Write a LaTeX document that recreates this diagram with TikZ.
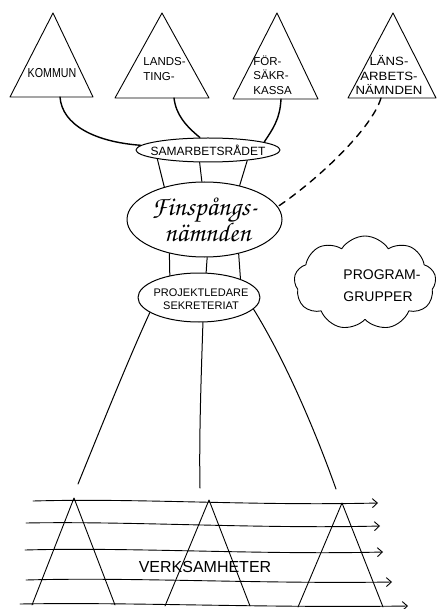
\documentclass[tikz,border=0pt]{standalone}
\usepackage{fontspec}
\setmainfont{Liberation Sans}
\newfontfamily\handscript{texgyrechorus-mediumitalic.otf}
\usetikzlibrary{shapes.geometric,shapes.symbols,arrows.meta}

\begin{document}
\begin{tikzpicture}[x=1pt,y=-1pt,line width=0.9pt,line join=round,line cap=round,
  lab/.style={align=center,inner sep=0pt,font=\fontsize{11}{14.5}\selectfont},
  oval/.style={draw,ellipse,inner sep=0pt,line width=1pt},
  tri/.style={line width=0.9pt},
  feeder/.style={line width=1.4pt},
  link/.style={line width=1pt},
  flow/.style={line width=0.9pt,-{Straight Barb[length=5pt,width=9pt,line width=0.9pt]}}]
\useasboundingbox (0,0) rectangle (439,609);

% ---- the four founding bodies
\draw[tri] (53,13) -- (93,97) -- (10,97) -- cycle;
\draw[tri] (162,13) -- (209,98) -- (115,98) -- cycle;
\draw[tri] (277,13) -- (318,99) -- (233,99) -- cycle;
\draw[tri] (393,13) -- (436,98) -- (348,98) -- cycle;

\node[lab,font=\fontsize{13}{14}\selectfont,xscale=0.82] (kommun) at (52,73) {KOMMUN};
\node[lab,align=left,anchor=west,font=\fontsize{11.5}{15}\selectfont] (landsting) at (143,69) {LANDS-\\TING-};
\node[lab,align=left,anchor=west,font=\fontsize{11.5}{14.5}\selectfont] (kassa) at (253,75) {FÖR-\\SÄKR-\\KASSA};
\node[lab,font=\fontsize{12}{14.5}\selectfont,xscale=1.1] (lans) at (389,75) {LÄNS-\\ARBETS-\\NÄMNDEN};

\coordinate (kommunfoot) at (60,97);
\coordinate (landstingfoot) at (174,98);
\coordinate (kassafoot) at (281,99);
\coordinate (lansfoot) at (381,98);

% ---- councils
\node[oval,minimum width=144pt,minimum height=24pt] (sam) at (208,150) {};
\node[lab,font=\fontsize{12}{12}\selectfont] (samtext) at (sam.center) {SAMARBETSRÅDET};

\node[oval,minimum width=155pt,minimum height=75pt] (fin) at (204.5,219.5) {};
\node[lab,font=\handscript\fontsize{27}{27}\selectfont] (fintext) at (fin.center) {Finspångs-\\[-1pt]\hspace*{6pt}nämnden};

\node[oval,minimum width=122pt,minimum height=49pt] (proj) at (199,297.5) {};
\node[lab,font=\fontsize{11}{12.5}\selectfont] (projtext) at (201,299) {PROJEKTLEDARE\\SEKRETERIAT};

% ---- program groups
\node[cloud,draw,cloud puffs=9,cloud puff arc=115,aspect=1.5,
      minimum width=142pt,minimum height=94pt,inner sep=0pt] (cloud) at (365,283) {};
\node[lab,align=left,anchor=west,font=\fontsize{14}{22}\selectfont] (cloudtext) at (343,286) {PROGRAM-\\GRUPPER};

% ---- links from the founders to the cooperation council
\draw[feeder] (kommunfoot) .. controls (62,125) and (95,142) .. (sam.176);
\draw[feeder] (landstingfoot) .. controls (176,115) and (186,126) .. (sam.123);
\draw[feeder] (kassafoot) .. controls (280,120) and (272,130) .. (sam.8);
\draw[feeder,dash pattern=on 7pt off 6pt] (lansfoot) .. controls (372,128) and (320,178) .. (fin.10);

% ---- council to board to secretariat
\draw[link] (sam.190) -- (fin.141);
\draw[link] (sam.236) -- (fin.94);
\draw[link] (sam.345) -- (fin.44);
\draw[link] (fin.224) -- (proj.143);
\draw[link] (fin.274) -- (proj.74);
\draw[link] (fin.315) -- (proj.24);

% ---- secretariat down to the activities
\coordinate (leftend) at (78,484);
\coordinate (midend) at (200,488);
\coordinate (rightend) at (336,489);
\draw[link] (proj.197) .. controls (128,360) and (100,430) .. (leftend);
\draw[link] (proj.279) .. controls (201,380) and (199,440) .. (midend);
\draw[link] (proj.348) .. controls (285,360) and (315,430) .. (rightend);

% ---- activity streams
\coordinate (r1s) at (33,501);  \coordinate (r1e) at (378,503);
\coordinate (r2s) at (26,523);  \coordinate (r2e) at (380,526);
\coordinate (r3s) at (25,550);  \coordinate (r3e) at (383,552);
\coordinate (r4s) at (26,580);  \coordinate (r4e) at (392,582);
\coordinate (r5s) at (20,604);  \coordinate (r5e) at (408,606);
\draw[flow] (r1s) .. controls (140,498) and (250,506) .. (r1e);
\draw[flow] (r2s) .. controls (130,521) and (260,529) .. (r2e);
\draw[flow] (r3s) .. controls (130,547) and (260,555) .. (r3e);
\draw[flow] (r4s) .. controls (130,577) and (260,584) .. (r4e);
\draw[flow] (r5s) .. controls (130,602) and (260,608) .. (r5e);

% ---- the three activity pyramids
\draw[tri] (32,605) -- (74,498) -- (115,605);
\draw[tri] (165,606) -- (209,500) -- (250,606);
\draw[tri] (298,607) -- (342,503) -- (383,607);

\node[lab,font=\fontsize{16}{16}\selectfont] (verk) at (205,567) {VERKSAMHETER};
\end{tikzpicture}
\end{document}
